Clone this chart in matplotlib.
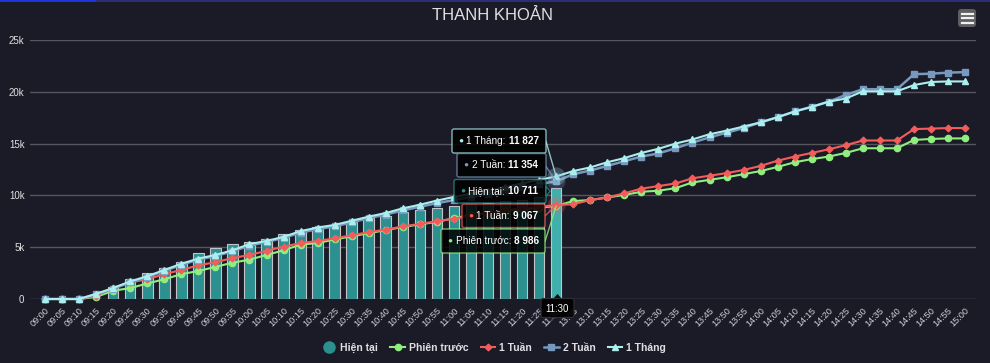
import matplotlib
matplotlib.use('Agg')
import matplotlib.pyplot as plt
from matplotlib.patches import FancyBboxPatch, Rectangle, Polygon, ConnectionPatch
from matplotlib.lines import Line2D
from matplotlib.transforms import Affine2D
import numpy as np

plt.rcParams['font.family'] = ['Liberation Sans', 'DejaVu Sans']

times = ["09:00", "09:05", "09:10", "09:15", "09:20", "09:25", "09:30", "09:35", "09:40", "09:45",
         "09:50", "09:55", "10:00", "10:05", "10:10", "10:15", "10:20", "10:25", "10:30", "10:35",
         "10:40", "10:45", "10:50", "10:55", "11:00", "11:05", "11:10", "11:15", "11:20", "11:25",
         "11:30", "13:05", "13:10", "13:15", "13:20", "13:25", "13:30", "13:35", "13:40", "13:45",
         "13:50", "13:55", "14:00", "14:05", "14:10", "14:15", "14:20", "14:25", "14:30", "14:35",
         "14:40", "14:45", "14:50", "14:55", "15:00"]

hien_tai = [0, 0, 0, 0, 1200, 1950, 2500, 3000, 3600, 4450, 4950, 5300, 5500, 5750, 6300, 6700,
            6950, 7100, 7400, 7800, 8000, 8400, 8600, 8800, 9000, 9150, 9300, 9450, 9600, 9800, 10711]

phien_truoc = [0, 0, 0, 200, 800, 1050, 1500, 1900, 2400, 2700, 3100, 3500, 3800, 4250, 4700, 5250,
               5400, 5750, 6050, 6350, 6650, 6950, 7200, 7450, 7800, 8100, 8300, 8500, 8650, 8800, 8986,
               9450, 9550, 9800, 10050, 10350, 10450, 10700, 11250, 11500, 11750, 12050, 12350, 12750,
               13200, 13500, 13750, 14100, 14550, 14550, 14550, 15350, 15450, 15500, 15500]

tuan_1 = [0, 0, 0, 300, 1100, 1600, 1900, 2400, 2800, 3250, 3550, 3950, 4250, 4650, 5050, 5400,
          5600, 5850, 6150, 6450, 6700, 7000, 7250, 7500, 7750, 8050, 8300, 8550, 8750, 8900, 9067,
          9150, 9550, 9800, 10200, 10650, 10900, 11150, 11650, 11900, 12150, 12450, 12850, 13350,
          13750, 14100, 14450, 14850, 15300, 15300, 15300, 16400, 16450, 16500, 16500]

tuan_2 = [0, 0, 0, 450, 1000, 1600, 2100, 2700, 3300, 3800, 4150, 4600, 5150, 5500, 5900, 6400,
          6750, 7000, 7400, 7800, 8150, 8550, 8900, 9250, 9550, 9850, 10150, 10500, 10800, 11100, 11354,
          12050, 12400, 12850, 13300, 13750, 14050, 14550, 15100, 15600, 16050, 16500, 17050, 17550,
          18100, 18550, 19050, 19700, 20250, 20250, 20250, 21700, 21750, 21850, 21900]

thang_1 = [0, 0, 0, 500, 1060, 1700, 2200, 2800, 3400, 3900, 4250, 4700, 5300, 5600, 6000, 6550,
           6900, 7150, 7550, 7950, 8300, 8750, 9100, 9500, 9850, 10150, 10450, 10800, 11150, 11500, 11827,
           12350, 12700, 13200, 13600, 14100, 14500, 15000, 15400, 15900, 16250, 16650, 17050, 17550,
           18100, 18550, 19050, 19350, 20050, 20050, 20050, 20650, 20950, 21000, 21000]

y_ticks = [0, 5000, 10000, 15000, 20000, 25000]
y_labels = ["0", "5k", "10k", "15k", "20k", "25k"]

series_names = ["Hiện tại", "Phiên trước", "1 Tuần", "2 Tuần", "1 Tháng"]
colors = ["#2b908f", "#90ee7e", "#f45b5b", "#7798BF", "#aaeeee"]
hover_idx = len(hien_tai) - 1

W, H = 990, 363
BG = '#1b1b27'
TXT = '#e0e0e3'
fig = plt.figure(figsize=(W / 100, H / 100), dpi=100)
fig.patch.set_facecolor(BG)
PX = Affine2D().scale(1 / 100, -1 / 100).translate(0, H / 100) + fig.dpi_scale_trans

ax = fig.add_axes([30 / W, 1 - 299 / H, 946 / W, 259 / H])
ax.set_facecolor(BG)
x = np.arange(len(times))

bars = ax.bar(x[:len(hien_tai)], hien_tai, width=0.62, color=colors[0],
              edgecolor='#c4c4c8', linewidth=0.8, zorder=2)
bars.patches[hover_idx].set_facecolor('#3fb0ac')

ax.plot(x, phien_truoc, color=colors[1], lw=1.5, marker='o', ms=4.5, zorder=3, clip_on=False)
ax.plot(x, tuan_1, color=colors[2], lw=1.5, marker='D', ms=3.4, zorder=4, clip_on=False)
ax.plot(x, tuan_2, color=colors[3], lw=1.8, marker='s', ms=4.8, zorder=5, clip_on=False)
ax.plot(x, thang_1, color=colors[4], lw=1.5, marker='^', ms=5, zorder=6, clip_on=False)

# hover halos
for vals, c in [(tuan_1, colors[2]), (tuan_2, colors[3]), (thang_1, colors[4])]:
    ax.plot(hover_idx, vals[hover_idx], 'o', ms=13, color=c, alpha=0.25, zorder=7, mec='none')

ax.set_xlim(-0.88, len(times) - 0.36)
ax.set_ylim(0, 25000)
ax.set_yticks(y_ticks)
ax.set_yticklabels(y_labels, fontsize=7, color=TXT)
ax.yaxis.grid(True, color='#55555e', lw=1, zorder=0)
ax.set_axisbelow(True)
ax.set_xticks(x)
ax.set_xticklabels(times, rotation=45, ha='right', rotation_mode='anchor', fontsize=6.6, color='#cfcfd4')
ax.tick_params(axis='x', length=0, pad=5)
ax.tick_params(axis='y', length=0, pad=4)
for s in ax.spines.values():
    s.set_visible(False)

# title
fig.text(493, 16, 'THANH KHOẢN', transform=PX, ha='center', va='center', fontsize=12, color=TXT)

# top strip
fig.add_artist(Rectangle((0, 0), 96, 2, transform=PX, fc='#1f35e0', ec='none', zorder=20))
fig.add_artist(Rectangle((96, 0), W - 96, 2, transform=PX, fc='#2a2e78', ec='none', zorder=20))

# menu icon
fig.add_artist(FancyBboxPatch((958, 9), 18, 18, boxstyle='round,pad=0,rounding_size=3',
                              transform=PX, fc='#5e5e62', ec='none', zorder=20))
for yy in (13.5, 18, 22.5):
    fig.add_artist(Line2D([961.5, 972.5], [yy, yy], transform=PX, color='#f0f0f0', lw=1.6, zorder=21))

# legend
handles = [
    Line2D([], [], ls='none', marker='o', ms=8, color=colors[0]),
    Line2D([], [], color=colors[1], lw=1.5, marker='o', ms=4.5),
    Line2D([], [], color=colors[2], lw=1.5, marker='D', ms=3.4),
    Line2D([], [], color=colors[3], lw=1.8, marker='s', ms=4.8),
    Line2D([], [], color=colors[4], lw=1.5, marker='^', ms=5),
]
fig.legend(handles, series_names, loc='center', bbox_to_anchor=(494 / W, 1 - 348 / H), ncol=5,
           frameon=False, prop={'weight': 'bold', 'size': 7.5}, labelcolor=TXT,
           handlelength=1.4, handletextpad=0.4, columnspacing=1.15)

# tooltips
def fmt(v):
    return f"{v:,}".replace(",", " ")

tips = [
    (4, thang_1, (452, 129, 546, 153), (546, 141.5)),
    (3, tuan_2, (457, 153.5, 546, 177), (546, 166.5)),
    (0, hien_tai, (454, 179.5, 546, 203), None),
    (2, tuan_1, (462, 204, 545, 227.5), (545, 216)),
    (1, phien_truoc, (441, 229, 545, 253), (545, 241.5)),
]
for si, vals, (x0, y0, x1, y1), con in tips:
    c = colors[si]
    v = vals[hover_idx]
    if con is not None:
        cp = ConnectionPatch(xyA=con, coordsA=PX, xyB=(hover_idx, v), coordsB=ax.transData,
                             color=c, lw=1, alpha=0.8, zorder=29)
        fig.add_artist(cp)
    box = FancyBboxPatch((x0, y0), x1 - x0, y1 - y0, boxstyle='round,pad=0,rounding_size=2',
                         transform=PX, fc=(0, 0, 0, 0.85), ec=c, lw=1, zorder=30)
    box.set_edgecolor(matplotlib.colors.to_rgba(c, 0.75))
    fig.add_artist(box)
    yc = (y0 + y1) / 2
    if si == 0:
        fig.add_artist(Polygon([(x1, yc - 5), (x1 + 4, yc), (x1, yc + 5)], closed=True, transform=PX,
                               fc=(0, 0, 0, 0.85), ec=matplotlib.colors.to_rgba(c, 0.75), lw=1, zorder=30))
    fig.text(x0 + 9, yc, '●', transform=PX, ha='center', va='center', fontsize=6, color=c, zorder=31)
    lab = fig.text(x0 + 14.5, yc, series_names[si] + ': ', transform=PX, ha='left', va='center',
                   fontsize=7.2, color='#ffffff', zorder=31)
    fig.add_artist(matplotlib.text.Annotation(fmt(v), xy=(1, 0.5), xycoords=lab, ha='left', va='center',
                                              fontsize=7.2, color='#ffffff', weight='bold', zorder=31))

# x-axis crosshair label
fig.add_artist(Polygon([(553.5, 298.5), (557.5, 294), (561.5, 298.5)], closed=True, transform=PX,
                       fc=(0, 0, 0, 0.9), ec='none', zorder=30))
fig.add_artist(FancyBboxPatch((541, 298.5), 33, 19, boxstyle='round,pad=0,rounding_size=2',
                              transform=PX, fc=(0, 0, 0, 0.9), ec='#303036', lw=0.8, zorder=30))
fig.text(557.5, 308.5, times[hover_idx], transform=PX, ha='center', va='center', fontsize=7,
         color='#ffffff', zorder=31)

fig.savefig('out.png', dpi=100, facecolor=BG)
